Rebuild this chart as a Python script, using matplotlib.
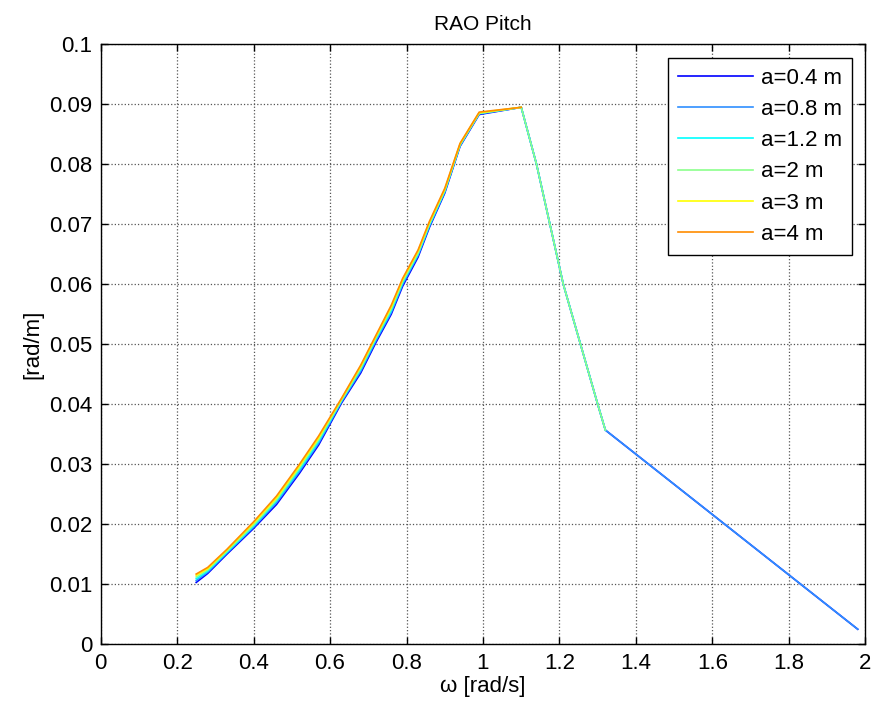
#!/usr/bin/env python3
# -*- coding: utf-8 -*-
"""RAO Pitch curves for several wave amplitudes (MATLAB-like look)."""

import matplotlib
matplotlib.use("Agg")
import matplotlib.pyplot as plt

# frequencies [rad/s]
omega_full = [0.25, 0.28, 0.33, 0.40, 0.46, 0.52, 0.57, 0.63, 0.68, 0.72,
              0.76, 0.79, 0.83, 0.86, 0.90, 0.94, 0.99, 1.10, 1.14, 1.175,
              1.21, 1.255, 1.30, 1.32, 1.98]
omega_mid = omega_full[:24]     # curves that stop at 1.32
omega_short = omega_full[:18]   # curves that stop at 1.10

rao_04 = [0.0103, 0.0118, 0.0150, 0.0193, 0.0233, 0.0285, 0.0332, 0.0402,
          0.0452, 0.0503, 0.0550, 0.0597, 0.0645, 0.0695, 0.0752, 0.0830,
          0.0883, 0.0895, 0.0800, 0.0700, 0.0600, 0.0500, 0.0400, 0.0357,
          0.0025]
rao_08 = [0.0106, 0.0120, 0.0152, 0.0195, 0.0236, 0.0288, 0.0335, 0.0404,
          0.0455, 0.0506, 0.0553, 0.0600, 0.0648, 0.0697, 0.0754, 0.0831,
          0.0884, 0.0895, 0.0800, 0.0700, 0.0600, 0.0500, 0.0400, 0.0357,
          0.0025]
rao_12 = [0.0109, 0.0122, 0.0153, 0.0197, 0.0239, 0.0291, 0.0338, 0.0406,
          0.0458, 0.0509, 0.0556, 0.0603, 0.0650, 0.0699, 0.0755, 0.0832,
          0.0885, 0.0895, 0.0800, 0.0700, 0.0600, 0.0500, 0.0400, 0.0357]
rao_2 = [0.0112, 0.0124, 0.0155, 0.0199, 0.0241, 0.0294, 0.0341, 0.0407,
         0.0460, 0.0511, 0.0559, 0.0605, 0.0652, 0.0701, 0.0757, 0.0833,
         0.0885, 0.0895, 0.0800, 0.0700, 0.0600, 0.0500, 0.0400, 0.0357]
rao_3 = [0.0115, 0.0126, 0.0157, 0.0202, 0.0244, 0.0297, 0.0344, 0.0409,
         0.0463, 0.0513, 0.0562, 0.0608, 0.0655, 0.0703, 0.0758, 0.0834,
         0.0886, 0.0895]
rao_4 = [0.0117, 0.0128, 0.0158, 0.0204, 0.0247, 0.0300, 0.0347, 0.0410,
         0.0465, 0.0515, 0.0565, 0.0610, 0.0657, 0.0705, 0.0760, 0.0835,
         0.0887, 0.0895]

labels = ["a=0.4 m", "a=0.8 m", "a=1.2 m", "a=2 m", "a=3 m", "a=4 m"]
colors = ["#0000FF", "#2F8FFF", "#00FFFF", "#8CFF8C", "#FFFF00", "#FF8C00"]

xticks = [0, 0.2, 0.4, 0.6, 0.8, 1, 1.2, 1.4, 1.6, 1.8, 2]
xtick_labels = ["0", "0.2", "0.4", "0.6", "0.8", "1", "1.2", "1.4", "1.6", "1.8", "2"]
yticks = [0, 0.01, 0.02, 0.03, 0.04, 0.05, 0.06, 0.07, 0.08, 0.09, 0.1]
ytick_labels = ["0", "0.01", "0.02", "0.03", "0.04", "0.05", "0.06", "0.07",
                "0.08", "0.09", "0.1"]

plt.rcParams.update({
    "font.family": ["Liberation Sans", "DejaVu Sans"],
    "font.size": 16,
})

fig = plt.figure(figsize=(8.75, 7.15), dpi=100)
ax = fig.add_axes([0.115, 0.099, 0.874, 0.839])

series = [
    (omega_full, rao_04),
    (omega_full, rao_08),
    (omega_mid, rao_12),
    (omega_mid, rao_2),
    (omega_short, rao_3),
    (omega_short, rao_4),
]
for (xs, ys), lab, col in zip(series, labels, colors):
    ax.plot(xs, ys, color=col, lw=1.2, label=lab)

ax.set_xlim(0, 2)
ax.set_ylim(0, 0.1)
ax.set_xticks(xticks)
ax.set_xticklabels(xtick_labels)
ax.set_yticks(yticks)
ax.set_yticklabels(ytick_labels)
ax.tick_params(direction="in", top=True, right=True, length=5, width=1, pad=6)
ax.grid(True, color="#555555", ls=":", lw=0.9)
for sp in ax.spines.values():
    sp.set_linewidth(1.0)

ax.set_title("RAO Pitch", fontsize=15, pad=10)
ax.set_xlabel("\u03c9 [rad/s]", fontsize=16, labelpad=2)
ax.set_ylabel("[rad/m]", fontsize=16, labelpad=4)

leg = ax.legend(loc="upper right", fancybox=False, framealpha=1,
                edgecolor="black", fontsize=16, handlelength=3.4,
                borderaxespad=0.6, labelspacing=0.46, borderpad=0.45,
                handletextpad=0.35)
leg.get_frame().set_linewidth(1.0)

fig.savefig("out.png", dpi=100)
plt.close(fig)
